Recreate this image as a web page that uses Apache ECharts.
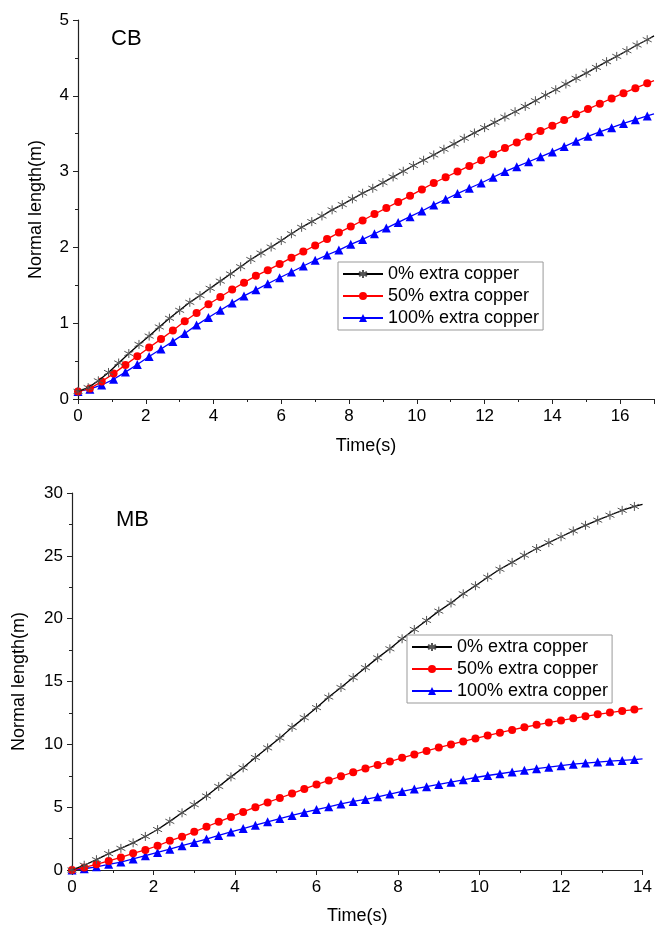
<!DOCTYPE html>
<html>
<head>
<meta charset="utf-8">
<script src="https://cdn.jsdelivr.net/npm/echarts@6/dist/echarts.min.js"></script>
<style>
  html, body { margin: 0; padding: 0; background: #fff; }
  #main { width: 655px; height: 926px; }
</style>
</head>
<body>
<div id="main"></div>
<script>
// series names
var names = ['0% extra copper', '50% extra copper', '100% extra copper'];

// CB (top chart)
var cbTimeBlack = [0,0.3,0.6,0.9,1.2,1.5,1.8,2.1,2.4,2.7,3,3.3,3.6,3.9,4.2,4.5,4.8,5.1,5.4,5.7,6,6.3,6.6,6.9,7.2,7.5,7.8,8.1,8.4,8.7,9,9.3,9.6,9.9,10.2,10.5,10.8,11.1,11.4,11.7,12,12.3,12.6,12.9,13.2,13.5,13.8,14.1,14.4,14.7,15,15.3,15.6,15.9,16.2,16.5,16.8,17];
var cbBlack = [0.10,0.15,0.24,0.35,0.475,0.60,0.72,0.83,0.95,1.065,1.17,1.275,1.365,1.46,1.555,1.65,1.745,1.84,1.925,2.005,2.09,2.18,2.265,2.34,2.415,2.495,2.565,2.64,2.715,2.78,2.855,2.93,3.005,3.08,3.15,3.22,3.295,3.365,3.44,3.51,3.58,3.65,3.72,3.79,3.86,3.935,4.01,4.08,4.155,4.23,4.30,4.375,4.45,4.52,4.595,4.67,4.74,4.79];
var cbTimeRB = [0,0.35,0.7,1.05,1.4,1.75,2.1,2.45,2.8,3.15,3.5,3.85,4.2,4.55,4.9,5.25,5.6,5.95,6.3,6.65,7,7.35,7.7,8.05,8.4,8.75,9.1,9.45,9.8,10.15,10.5,10.85,11.2,11.55,11.9,12.25,12.6,12.95,13.3,13.65,14,14.35,14.7,15.05,15.4,15.75,16.1,16.45,16.8,17];
var cbRed = [0.10,0.14,0.23,0.335,0.45,0.565,0.68,0.79,0.905,1.025,1.135,1.25,1.345,1.445,1.535,1.625,1.70,1.78,1.865,1.945,2.025,2.11,2.195,2.275,2.355,2.44,2.52,2.60,2.68,2.765,2.85,2.925,3.00,3.075,3.15,3.23,3.31,3.385,3.46,3.535,3.605,3.68,3.755,3.825,3.895,3.965,4.035,4.10,4.165,4.20];
var cbBlue = [0.10,0.13,0.185,0.26,0.355,0.455,0.56,0.66,0.76,0.865,0.975,1.075,1.17,1.265,1.36,1.44,1.52,1.60,1.675,1.755,1.83,1.90,1.965,2.04,2.105,2.18,2.255,2.33,2.405,2.48,2.56,2.635,2.71,2.78,2.85,2.925,3.00,3.065,3.13,3.195,3.26,3.33,3.40,3.465,3.525,3.58,3.635,3.685,3.735,3.76];

// MB (bottom chart)
var mbTime = [0,0.3,0.6,0.9,1.2,1.5,1.8,2.1,2.4,2.7,3,3.3,3.6,3.9,4.2,4.5,4.8,5.1,5.4,5.7,6,6.3,6.6,6.9,7.2,7.5,7.8,8.1,8.4,8.7,9,9.3,9.6,9.9,10.2,10.5,10.8,11.1,11.4,11.7,12,12.3,12.6,12.9,13.2,13.5,13.8,14];
var mbBlack = [0.0,0.38,0.82,1.30,1.72,2.16,2.67,3.22,3.87,4.55,5.20,5.89,6.65,7.41,8.13,8.95,9.72,10.50,11.35,12.12,12.92,13.76,14.52,15.31,16.10,16.88,17.6,18.4,19.14,19.86,20.6,21.25,21.98,22.62,23.3,23.93,24.48,25.05,25.58,26.05,26.52,26.98,27.43,27.84,28.23,28.62,28.93,29.1];
var mbRed = [0.0,0.2,0.45,0.72,1.00,1.33,1.60,1.93,2.32,2.65,3.04,3.44,3.83,4.22,4.62,5.00,5.38,5.73,6.08,6.45,6.80,7.13,7.46,7.78,8.08,8.36,8.63,8.93,9.2,9.47,9.74,9.99,10.23,10.47,10.70,10.93,11.15,11.36,11.55,11.73,11.9,12.07,12.23,12.39,12.53,12.66,12.77,12.85];
var mbBlue = [0.0,0.1,0.25,0.45,0.63,0.88,1.14,1.40,1.66,1.93,2.19,2.46,2.75,3.03,3.30,3.57,3.83,4.09,4.34,4.58,4.81,5.03,5.26,5.46,5.62,5.82,6.04,6.25,6.45,6.63,6.81,6.99,7.18,7.36,7.52,7.66,7.80,7.93,8.06,8.18,8.30,8.42,8.51,8.59,8.66,8.72,8.79,8.84];

var font = "'Liberation Sans', Arial, sans-serif";
var starPath = 'path://M0,-5L0,5M-4.33,-2.5L4.33,2.5M-4.33,2.5L4.33,-2.5';

// pairs; the last point only closes the line to the axis end
function pairs(t, v) {
    var out = [];
    for (var i = 0; i < t.length; i++) {
        if (i === t.length - 1) out.push({ value: [t[i], v[i]], symbol: 'none' });
        else out.push([t[i], v[i]]);
    }
    return out;
}

function axisCommon() {
    return {
        type: 'value',
        nameLocation: 'middle',
        nameTextStyle: { fontFamily: font, fontSize: 18, color: '#000' },
        axisLine: { show: true, lineStyle: { color: '#222', width: 1.2 } },
        axisTick: { show: true, inside: false, length: 5, lineStyle: { color: '#222' } },
        minorTick: { show: true, splitNumber: 2, length: 3, lineStyle: { color: '#222' } },
        splitLine: { show: false },
        axisLabel: { fontFamily: font, fontSize: 17, color: '#000', margin: 9 }
    };
}

function makeSeries(idx, name, data) {
    var styles = [
        { color: '#000', symbol: starPath, size: 9, item: { color: '#000', borderColor: '#555', borderWidth: 1 } },
        { color: '#ff0000', symbol: 'circle', size: 8, item: { color: '#ff0000' } },
        { color: '#0000ff', symbol: 'triangle', size: 9, item: { color: '#0000ff' } }
    ];
    var s = styles[idx % 3];
    return {
        name: name,
        type: 'line',
        xAxisIndex: idx < 3 ? 0 : 1,
        yAxisIndex: idx < 3 ? 0 : 1,
        data: data,
        symbol: s.symbol,
        symbolSize: s.size,
        showAllSymbol: true,
        lineStyle: { color: s.color, width: 1.3 },
        itemStyle: s.item,
        z: 3 - (idx % 3)
    };
}

var myChart = echarts.init(document.getElementById('main'));

var xTop = axisCommon();
xTop.gridIndex = 0; xTop.min = 0; xTop.max = 17; xTop.interval = 2;
xTop.name = 'Time(s)'; xTop.nameGap = 38;
xTop.axisLabel.showMaxLabel = false;

var yTop = axisCommon();
yTop.gridIndex = 0; yTop.min = 0; yTop.max = 5; yTop.interval = 1;
yTop.name = 'Normal length(m)'; yTop.nameGap = 33;

var xBot = axisCommon();
xBot.gridIndex = 1; xBot.min = 0; xBot.max = 14; xBot.interval = 2;
xBot.name = 'Time(s)'; xBot.nameGap = 37;

var yBot = axisCommon();
yBot.gridIndex = 1; yBot.min = 0; yBot.max = 30; yBot.interval = 5;
yBot.name = 'Normal length(m)'; yBot.nameGap = 44;

function legendAt(left, top) {
    return {
        data: names,
        orient: 'vertical',
        left: left,
        top: top,
        padding: [1, 4, 1, 4],
        itemGap: 0,
        itemWidth: 40,
        itemHeight: 10,
        borderColor: '#999',
        borderWidth: 1,
        selectedMode: false,
        textStyle: { fontFamily: font, fontSize: 18, color: '#000', lineHeight: 22 }
    };
}

var option = {
    animation: false,
    backgroundColor: '#fff',
    grid: [
        { left: 78, right: 1, top: 20, bottom: 527, containLabel: false },
        { left: 72, right: 10, top: 493, bottom: 54, containLabel: false }
    ],
    xAxis: [xTop, xBot],
    yAxis: [yTop, yBot],
    legend: [legendAt(338, 262), legendAt(407, 635)],
    graphic: [
        { type: 'text', left: 111, top: 28, style: { text: 'CB', font: '22px ' + font, fill: '#000' } },
        { type: 'text', left: 116, top: 509, style: { text: 'MB', font: '22px ' + font, fill: '#000' } }
    ],
    series: [
        makeSeries(0, names[0], pairs(cbTimeBlack, cbBlack)),
        makeSeries(1, names[1], pairs(cbTimeRB, cbRed)),
        makeSeries(2, names[2], pairs(cbTimeRB, cbBlue)),
        makeSeries(3, names[0], pairs(mbTime, mbBlack)),
        makeSeries(4, names[1], pairs(mbTime, mbRed)),
        makeSeries(5, names[2], pairs(mbTime, mbBlue))
    ]
};

myChart.setOption(option);
</script>
</body>
</html>
